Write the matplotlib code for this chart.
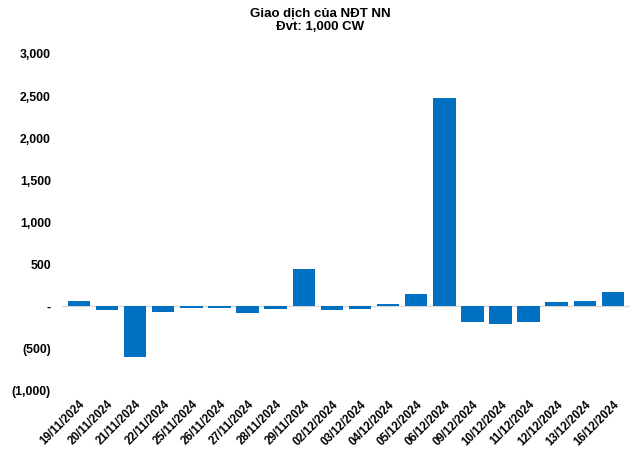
import matplotlib.pyplot as plt
import numpy as np

plt.rcParams['font.family'] = ['Liberation Sans', 'DejaVu Sans']

dates = ["19/11/2024", "20/11/2024", "21/11/2024", "22/11/2024", "25/11/2024",
         "26/11/2024", "27/11/2024", "28/11/2024", "29/11/2024", "02/12/2024",
         "03/12/2024", "04/12/2024", "05/12/2024", "06/12/2024", "09/12/2024",
         "10/12/2024", "11/12/2024", "12/12/2024", "13/12/2024", "16/12/2024"]
values = [65, -50, -610, -65, -25, -25, -85, -40, 445, -50,
          -40, 30, 148, 2475, -190, -215, -190, 50, 60, 170]

yticks = [-1000, -500, 0, 500, 1000, 1500, 2000, 2500, 3000]


def fmt(v):
    if v == 0:
        return "-"
    if v < 0:
        return f"({abs(v):,})"
    return f"{v:,}"


fig = plt.figure(figsize=(6.4, 4.5), dpi=100)
ax = fig.add_axes([0.097, 0.133, 0.887, 0.747])

x = np.arange(len(dates))
ax.bar(x, values, width=0.8, color='#0070C0', zorder=2)
ax.axhline(0, color='#d9d9d9', linewidth=1, zorder=1)

ax.set_xlim(-0.6, len(dates) - 0.4)
ax.set_ylim(-1000, 3000)
ax.set_yticks(yticks)
ax.set_yticklabels([fmt(v) for v in yticks], fontsize=8.8, fontweight='bold')
ax.set_xticks(x)
ax.set_xticklabels(dates, rotation=45, ha='right', rotation_mode='anchor',
                   fontsize=8.3, fontweight='bold')
ax.tick_params(axis='both', length=0)
ax.tick_params(axis='y', pad=8)
ax.tick_params(axis='x', pad=6)
for s in ax.spines.values():
    s.set_visible(False)

fig.suptitle("Giao dịch của NĐT NN\nĐvt: 1,000 CW", fontsize=9.5,
             fontweight='bold', y=0.983, linespacing=1.15)

fig.savefig("out.png", dpi=100)
